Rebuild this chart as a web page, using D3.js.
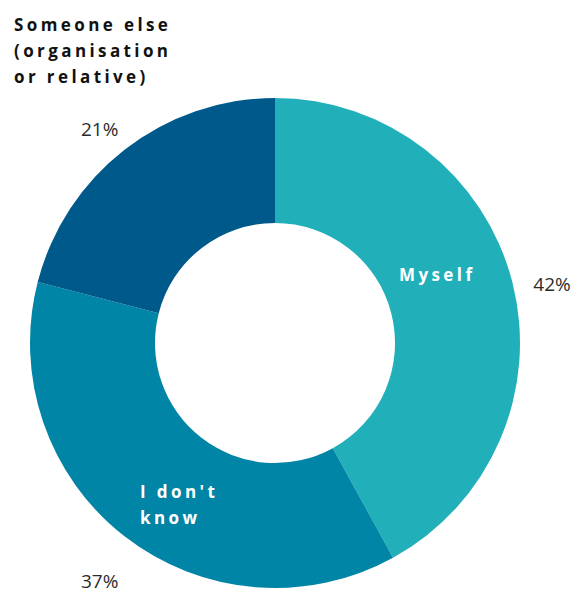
<!DOCTYPE html>
<html>
<head>
<meta charset="utf-8">
<script src="https://cdn.jsdelivr.net/npm/d3@7"></script>
<style>
  body { margin: 0; background: #fff; }
  svg { display: block; }
  .name { font-family: "Open Sans", sans-serif; font-weight: 700; letter-spacing: 3.4px; }
  .pct { font-family: "Open Sans", sans-serif; font-weight: 400; font-size: 19px; fill: #2b2b2b; }
</style>
</head>
<body>
<svg id="chart" width="574" height="590"></svg>
<script>
// data
const categories = ['Myself', "I don't know", 'Someone else (organisation or relative)']
const shares = [42, 37, 21]
const labelLines = [['Myself'], ['I don\'t', 'know'], ['Someone else', '(organisation', 'or relative)']]
const colors = ['#21afba', '#0085a6', '#00598b']

const frame = {width: 574, height: 590, cx: 275, cy: 343, outer: 245, inner: 120, pctRadius: 286, pctDy: 12}

// where each category name sits (inside slices, or outside for the last)
const nameSpots = [
  {x: 399, y: 281, anchor: 'start', fill: '#fff', size: 17, lh: 26},
  {x: 140, y: 498, anchor: 'start', fill: '#fff', size: 17, lh: 26},
  {x: 14, y: 31, anchor: 'start', fill: '#111', size: 17, lh: 26}
]

const svg = d3.select('#chart')
const g = svg.append('g').attr('transform', `translate(${frame.cx},${frame.cy})`)

const pie = d3.pie().sort(null).value(d => d)
const arcs = pie(shares)
const arc = d3.arc().innerRadius(frame.inner).outerRadius(frame.outer)
const pctArc = d3.arc().innerRadius(frame.pctRadius).outerRadius(frame.pctRadius)

g.selectAll('path.slice').data(arcs).enter().append('path')
  .attr('class', 'slice')
  .attr('d', arc)
  .attr('fill', (d, i) => colors[i])

g.selectAll('text.pct').data(arcs).enter().append('text')
  .attr('class', 'pct')
  .attr('x', d => pctArc.centroid(d)[0])
  .attr('y', d => pctArc.centroid(d)[1] + frame.pctDy)
  .attr('text-anchor', 'middle')
  .attr('dominant-baseline', 'central')
  .text(d => d.data + '%')

categories.forEach((c, i) => {
  const s = nameSpots[i]
  const t = svg.append('text').attr('class', 'name')
    .attr('text-anchor', s.anchor)
    .attr('fill', s.fill)
    .attr('font-size', s.size)
  labelLines[i].forEach((line, j) =>
    t.append('tspan').attr('x', s.x).attr('y', s.y + j * s.lh).text(line))
})
</script>
</body>
</html>
